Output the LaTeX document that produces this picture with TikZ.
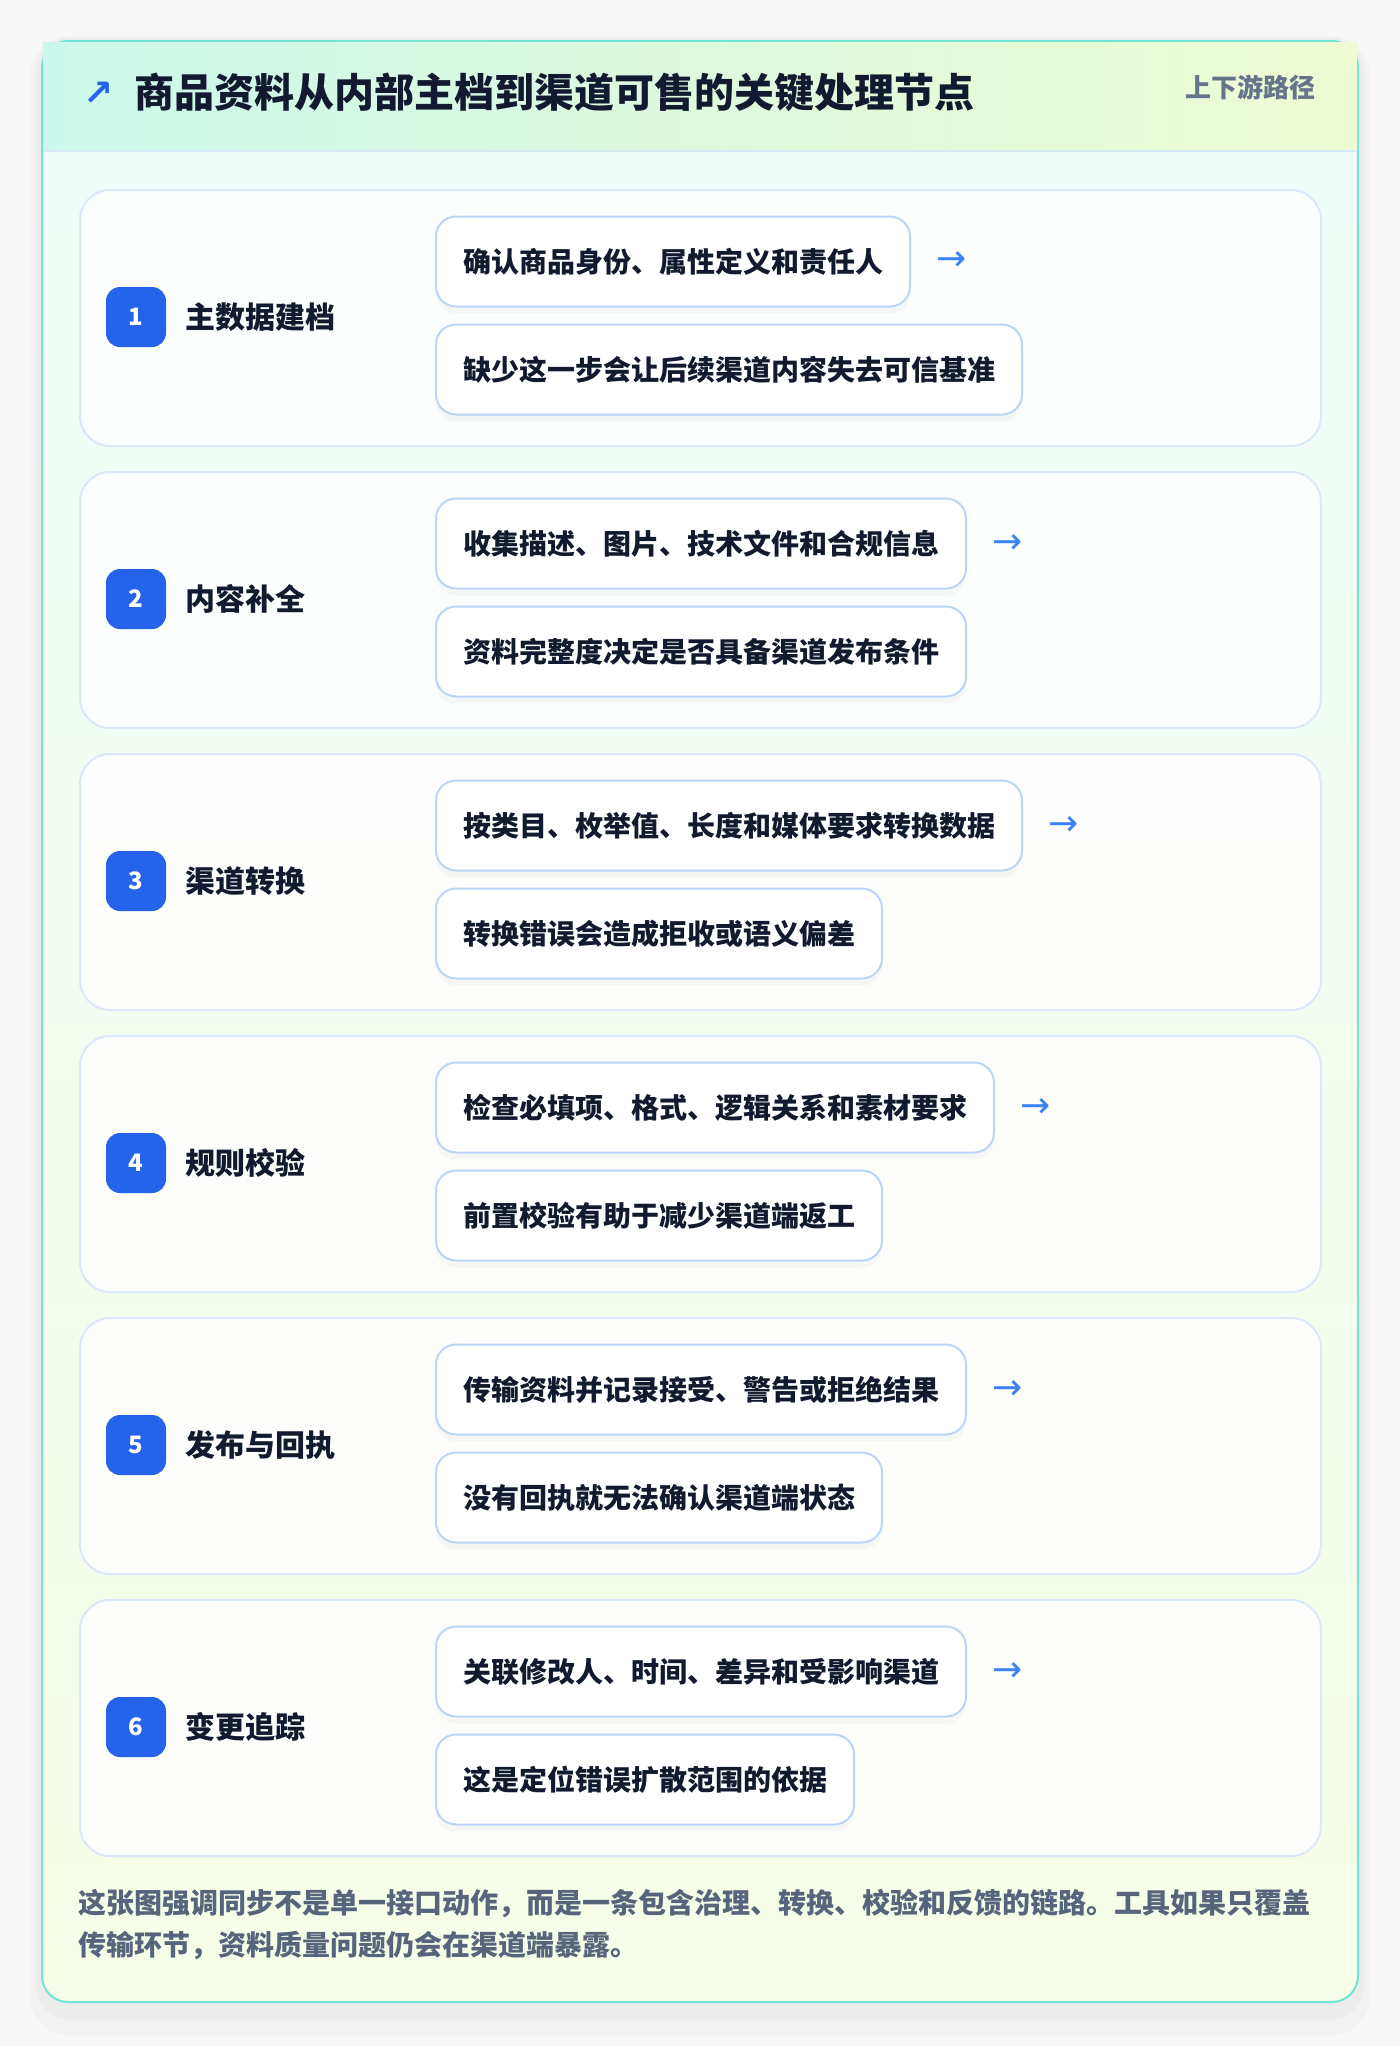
\documentclass[tikz,border=0pt]{standalone}
\usepackage{fontspec}
\newfontfamily\cjk{Noto Sans CJK SC}
\newfontfamily\symfont{DejaVu Sans}
\usetikzlibrary{positioning,shadows}

\definecolor{pagebg}{HTML}{F7F7F8}
\definecolor{frame}{HTML}{6EE5D3}
\definecolor{headleft}{HTML}{CCF8EB}
\definecolor{headright}{HTML}{EEFBD3}
\definecolor{bodytop}{HTML}{EFFCF8}
\definecolor{bodybottom}{HTML}{F6FDE8}
\definecolor{headline}{HTML}{D6EAF6}
\definecolor{cardline}{HTML}{DBE8FB}
\definecolor{boxline}{HTML}{BCD5F6}
\definecolor{badgeblue}{HTML}{2563EB}
\definecolor{arrowblue}{HTML}{3B82F6}
\definecolor{ink}{HTML}{111A2E}
\definecolor{tagtext}{HTML}{64748B}
\definecolor{notetext}{HTML}{56657B}

\begin{document}
\begin{tikzpicture}[x=1pt,y=-1pt]
    % Define the styles for the cards, boxes and labels
    \tikzstyle{stepcard}=[rectangle, rounded corners=30pt, draw=cardline, line width=2pt, fill=white, fill opacity=0.85, minimum width=1241pt, minimum height=256pt, anchor=north west, inner sep=0pt]
    \tikzstyle{badge}=[rectangle, rounded corners=14pt, fill=badgeblue, text=white, minimum size=60pt, inner sep=0pt, font=\cjk\bfseries\fontsize{24}{24}\selectfont]
    \tikzstyle{stage}=[anchor=west, inner sep=0pt, text=ink, font=\cjk\bfseries\fontsize{30}{36}\selectfont]
    \tikzstyle{detail}=[rectangle, rounded corners=20pt, draw=boxline, line width=2pt, fill=white, drop shadow={opacity=0.05, shadow xshift=0pt, shadow yshift=-7pt}, inner xsep=27pt, inner ysep=0pt, minimum height=90pt, anchor=west, text=ink, font=\cjk\bfseries\fontsize{28}{34}\selectfont]
    \tikzstyle{nextmark}=[inner sep=0pt, text=arrowblue, font=\symfont\fontsize{36}{36}\selectfont]
    \tikzstyle{note}=[anchor=west, inner sep=0pt, text=notetext, font=\cjk\bfseries\fontsize{28}{34}\selectfont]

    % Page and outer card
    \useasboundingbox (0,0) rectangle (1400,2046);
    \fill[pagebg] (0,0) rectangle (1400,2046);
    \fill[black, opacity=0.02, rounded corners=40pt] (30,36) rectangle (1370,2036);
    \fill[black, opacity=0.02, rounded corners=34pt] (36,38) rectangle (1364,2020);
    \path[rounded corners=26pt, top color=bodytop, bottom color=bodybottom, draw=frame, line width=2pt] (42,41) rectangle (1358,2002);
    \path[left color=headleft, right color=headright] (43,42) rectangle (1357,151);
    \draw[frame, line width=2pt] (68,41) -- (1332,41);
    \draw[headline, line width=2pt] (43,151) -- (1357,151);

    % Draw the header
    \node[nextmark, anchor=west, font=\symfont\bfseries\fontsize{36}{36}\selectfont, text=badgeblue] (mark) at (83,94) {↗};
    \node[anchor=west, inner sep=0pt, text=ink, font=\cjk\bfseries\fontsize{40}{48}\selectfont] (title) at (134,92) {商品资料从内部主档到渠道可售的关键处理节点};
    \node[anchor=east, inner sep=0pt, text=tagtext, font=\cjk\bfseries\fontsize{26}{30}\selectfont] (tag) at (1316,87) {上下游路径};

    % Draw the step cards
    \node[stepcard] (card1) at (79,189) {};
    \node[stepcard] (card2) at (79,471) {};
    \node[stepcard] (card3) at (79,753) {};
    \node[stepcard] (card4) at (79,1035) {};
    \node[stepcard] (card5) at (79,1317) {};
    \node[stepcard] (card6) at (79,1599) {};

    % Step 1
    \node[badge] (num1) at (136,317) {1};
    \node[stage] (stage1) at (185,317) {主数据建档};
    \node[detail] (do1) at (435,261.5) {确认商品身份、属性定义和责任人};
    \node[detail, below=16pt of do1.south west, anchor=north west] (why1) {缺少这一步会让后续渠道内容失去可信基准};
    \node[nextmark, right=25pt of do1] (next1) {→};

    % Step 2
    \node[badge] (num2) at (136,599) {2};
    \node[stage] (stage2) at (185,599) {内容补全};
    \node[detail] (do2) at (435,543.5) {收集描述、图片、技术文件和合规信息};
    \node[detail, below=16pt of do2.south west, anchor=north west] (why2) {资料完整度决定是否具备渠道发布条件};
    \node[nextmark, right=25pt of do2] (next2) {→};

    % Step 3
    \node[badge] (num3) at (136,881) {3};
    \node[stage] (stage3) at (185,881) {渠道转换};
    \node[detail] (do3) at (435,825.5) {按类目、枚举值、长度和媒体要求转换数据};
    \node[detail, below=16pt of do3.south west, anchor=north west] (why3) {转换错误会造成拒收或语义偏差};
    \node[nextmark, right=25pt of do3] (next3) {→};

    % Step 4
    \node[badge] (num4) at (136,1163) {4};
    \node[stage] (stage4) at (185,1163) {规则校验};
    \node[detail] (do4) at (435,1107.5) {检查必填项、格式、逻辑关系和素材要求};
    \node[detail, below=16pt of do4.south west, anchor=north west] (why4) {前置校验有助于减少渠道端返工};
    \node[nextmark, right=25pt of do4] (next4) {→};

    % Step 5
    \node[badge] (num5) at (136,1445) {5};
    \node[stage] (stage5) at (185,1445) {发布与回执};
    \node[detail] (do5) at (435,1389.5) {传输资料并记录接受、警告或拒绝结果};
    \node[detail, below=16pt of do5.south west, anchor=north west] (why5) {没有回执就无法确认渠道端状态};
    \node[nextmark, right=25pt of do5] (next5) {→};

    % Step 6
    \node[badge] (num6) at (136,1727) {6};
    \node[stage] (stage6) at (185,1727) {变更追踪};
    \node[detail] (do6) at (435,1671.5) {关联修改人、时间、差异和受影响渠道};
    \node[detail, below=16pt of do6.south west, anchor=north west] (why6) {这是定位错误扩散范围的依据};
    \node[nextmark, right=25pt of do6] (next6) {→};

    % Closing note
    \node[note] (note1) at (78,1903) {这张图强调同步不是单一接口动作，而是一条包含治理、转换、校验和反馈的链路。工具如果只覆盖};
    \node[note] (note2) at (78,1946) {传输环节，资料质量问题仍会在渠道端暴露。};
\end{tikzpicture}
\end{document}
